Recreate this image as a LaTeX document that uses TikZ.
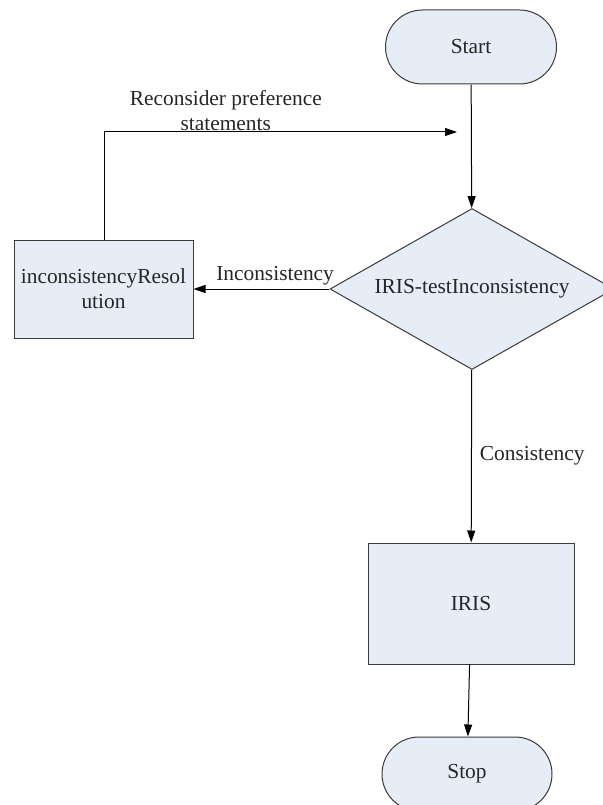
\documentclass[tikz,border=0pt]{standalone}
\usepackage{fontspec}
\setmainfont{Liberation Serif}
\usetikzlibrary{shapes.geometric,shapes.misc,arrows.meta}
\definecolor{boxfill}{HTML}{E6EDF7}
\definecolor{boxline}{HTML}{3A3A3A}
\begin{document}
\begin{tikzpicture}[x=1pt, y=-1pt,
	every node/.style={font=\fontsize{21.4}{25}\selectfont, text=black!85},
	flowbox/.style={draw=boxline, fill=boxfill, line width=1pt, inner sep=0pt},
	every edge/.style={draw=black, line width=1pt, -{Triangle[length=12pt,width=8pt]}}]
			\useasboundingbox (0,0) rectangle (602,805);
			\node[flowbox, rounded rectangle, minimum width=171pt, minimum height=74pt] (start) at (471,47){Start};
			\node[flowbox, diamond, aspect=1.8, minimum width=284pt, minimum height=161pt] (test) at (472,289){IRIS-testInconsistency};
			\node[flowbox, rectangle, minimum width=179pt, minimum height=98pt, align=center] (resol) at (103.5,289){inconsistencyResol\\ution};
			\node[flowbox, rectangle, minimum width=206pt, minimum height=121pt] (iris) at (471,603.5){IRIS};
			\node[flowbox, rounded rectangle, minimum width=170pt, minimum height=74pt] (stop) at (467,774){Stop};
			
			\coordinate (turn) at (104,132);
			\coordinate (back) at (457,132);
			
			\path (start) edge (test);
			\path (test) edge node[above, pos=0.4, inner sep=3pt]{Inconsistency} (resol);
			\path (test) edge node[right, inner sep=8pt]{Consistency} (iris);
			\path (iris) edge (stop);
			\draw[line width=1pt, -{Triangle[length=12pt,width=8pt]}] (resol.north -| turn) -- (turn) -- node[above, pos=0.345, align=center, inner sep=1pt]{Reconsider preference\\statements} (back);
			\end{tikzpicture}
\end{document}
